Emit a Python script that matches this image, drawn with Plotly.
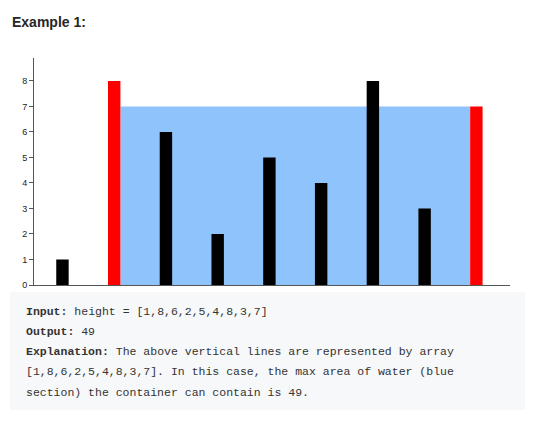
import plotly.graph_objects as go

heights = [1, 8, 6, 2, 5, 4, 8, 3, 7]
positions = list(range(1, len(heights) + 1))
y_ticks = [0, 1, 2, 3, 4, 5, 6, 7, 8]

# find container pair
best = (0, 0, 1)
for i in range(len(heights)):
    for j in range(i + 1, len(heights)):
        a = min(heights[i], heights[j]) * (j - i)
        if a > best[0]:
            best = (a, i, j)
area, li, ri = best
colors = ["red" if k in (li, ri) else "black" for k in range(len(heights))]
bw = 0.24
OFF = 8  # page body margin
W, H = 535 - 2 * OFF, 422 - 2 * OFF
L, R, T, B = 34 - OFF, 25 - OFF, 58 - OFF, 137 - OFF
pw = W - L - R
ph = H - T - B

def px(x):
    return (x - OFF - L) / pw

def py(y):
    return 1 - (y - OFF - T) / ph

fig = go.Figure()
fig.add_trace(go.Bar(
    x=[(positions[li] + positions[ri]) / 2], y=[min(heights[li], heights[ri])],
    width=[positions[ri] - positions[li] - bw], marker=dict(color="#8fc3fb", line_width=0),
    hoverinfo="skip"))
fig.add_trace(go.Bar(x=positions, y=heights, width=bw,
                     marker=dict(color=colors, line_width=0)))

fig.update_layout(
    width=W, height=H, margin=dict(l=L, r=R, t=T, b=B),
    plot_bgcolor="white", paper_bgcolor="white", showlegend=False, barmode="overlay",
    font=dict(family="Liberation Sans", color="#333"),
    xaxis=dict(range=[0.45, 9.65], showticklabels=False, showgrid=False, zeroline=False,
               showline=True, linecolor="#555", linewidth=1, ticks=""),
    yaxis=dict(range=[0, 8.9], tickvals=y_ticks, showgrid=False, zeroline=False,
               showline=True, linecolor="#555", linewidth=1, ticks="outside",
               ticklen=4, tickcolor="#555", tickfont=dict(size=9, color="#222")),
)
fig.add_shape(type="rect", xref="paper", yref="paper",
              x0=px(10), x1=px(525), y0=py(292), y1=py(410),
              fillcolor="#f7f8fa", line_width=0, layer="below")
fig.add_annotation(text="<b>Example 1:</b>", xref="paper", yref="paper",
                   x=px(10), y=py(22), xanchor="left", yanchor="middle", showarrow=False,
                   font=dict(family="Liberation Sans", size=14, color="#262626"))
lines = [
    "<b>Input:</b> height = [1,8,6,2,5,4,8,3,7]",
    "<b>Output:</b> 49",
    "<b>Explanation:</b> The above vertical lines are represented by array",
    "[1,8,6,2,5,4,8,3,7]. In this case, the max area of water (blue",
    "section) the container can contain is 49.",
]
for k, t in enumerate(lines):
    fig.add_annotation(text=t, xref="paper", yref="paper", x=px(24), y=py(311 + k * 20.3),
                       xanchor="left", yanchor="middle", showarrow=False,
                       font=dict(family="Liberation Mono", size=11.5, color="#333"))
fig.write_html("out.html")
